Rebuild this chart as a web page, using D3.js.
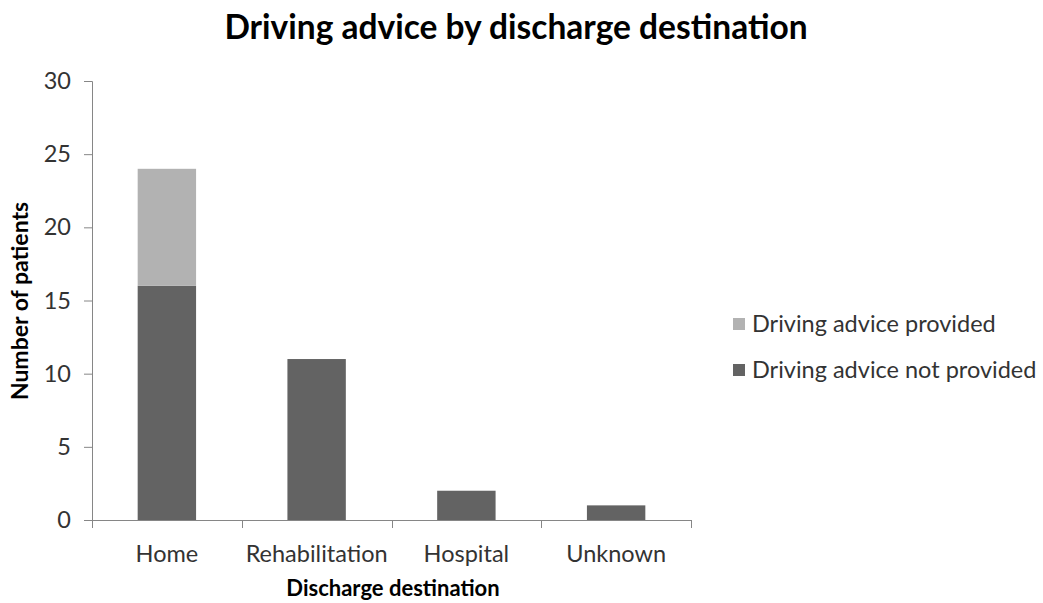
<!DOCTYPE html>
<html><head><meta charset="utf-8">
<script src="https://cdn.jsdelivr.net/npm/d3@7"></script>
<style>body{margin:0;background:#fff;}svg{display:block;font-family:Lato,"Open Sans",sans-serif;}</style>
</head><body>
<svg id="c" width="1043" height="603"></svg>
<script>
const categories = ["Home", "Rehabilitation", "Hospital", "Unknown"];
const notProvided = [16, 11, 2, 1];
const provided = [8, 0, 0, 0];
const seriesNames = ["Driving advice provided", "Driving advice not provided"];
const yTicks = [0, 5, 10, 15, 20, 25, 30];

(function () {
const svg = d3.select("#c");
const mLeft = 92, mRight = 691, mTop = 81, mBottom = 520;
const x = d3.scaleBand().domain(categories).range([mLeft, mRight]).paddingInner(0.61).paddingOuter(0.305);
const y = d3.scaleLinear().domain([0, 30]).range([mBottom, mTop]);
const dark = "#636363", light = "#b2b2b2", axisCol = "#868686", textCol = "#333333";
const ff = "Lato,'Open Sans',sans-serif";

svg.append("text").attr("x", 516).attr("y", 39).attr("text-anchor", "middle")
  .attr("font-size", 33.5).attr("font-weight", "bold").attr("fill", "#000")
  .text("Driving advice by discharge destination");

// bars
const g = svg.append("g");
g.selectAll("rect.np").data(categories).join("rect").attr("class", "np")
  .attr("x", d => x(d)).attr("width", x.bandwidth())
  .attr("y", (d, i) => y(notProvided[i])).attr("height", (d, i) => y(0) - y(notProvided[i]))
  .attr("fill", dark);
g.selectAll("rect.p").data(categories).join("rect").attr("class", "p")
  .attr("x", d => x(d)).attr("width", x.bandwidth())
  .attr("y", (d, i) => y(notProvided[i] + provided[i])).attr("height", (d, i) => y(notProvided[i]) - y(notProvided[i] + provided[i]))
  .attr("fill", light);

// y axis
const ya = svg.append("g").attr("transform", `translate(${mLeft},0)`)
  .call(d3.axisLeft(y).tickValues(yTicks).tickSize(8).tickPadding(13));
ya.select(".domain").attr("stroke", axisCol);
ya.selectAll(".tick line").attr("stroke", axisCol);
ya.selectAll(".tick text").attr("font-size", 23.5).attr("fill", textCol).attr("font-family", ff);

// x axis
const xa = svg.append("g").attr("transform", `translate(0,${mBottom})`)
  .call(d3.axisBottom(x).tickSize(0).tickPadding(25));
xa.select(".domain").attr("stroke", axisCol).attr("d", `M${mLeft},0.5H${mRight}`);
xa.selectAll(".tick text").attr("font-size", 23.5).attr("fill", textCol).attr("font-family", ff);
const bounds = categories.map(c => x(c) - x.step() * x.paddingInner() / 2).concat([mRight]);
svg.append("g").selectAll("line").data(bounds).join("line")
  .attr("x1", d => Math.round(d) + 0.5).attr("x2", d => Math.round(d) + 0.5)
  .attr("y1", mBottom).attr("y2", mBottom + 8).attr("stroke", axisCol);

// axis titles
svg.append("text").attr("transform", "translate(28,301) rotate(-90)").attr("text-anchor", "middle")
  .attr("font-size", 23).attr("font-weight", "bold").attr("fill", "#000").text("Number of patients");
svg.append("text").attr("x", 393).attr("y", 596).attr("text-anchor", "middle")
  .attr("font-size", 22).attr("font-weight", "bold").attr("fill", "#000").text("Discharge destination");

// legend
const legColors = [light, dark];
const lg = svg.append("g");
seriesNames.forEach((n, i) => {
  const yy = 324 + i * 46;
  lg.append("rect").attr("x", 733).attr("y", yy - 6).attr("width", 12).attr("height", 12).attr("fill", legColors[i]);
  lg.append("text").attr("x", 752).attr("y", yy).attr("dy", "0.35em").attr("font-size", 23.5).attr("fill", textCol).text(n);
});
})();
</script>
</body></html>
